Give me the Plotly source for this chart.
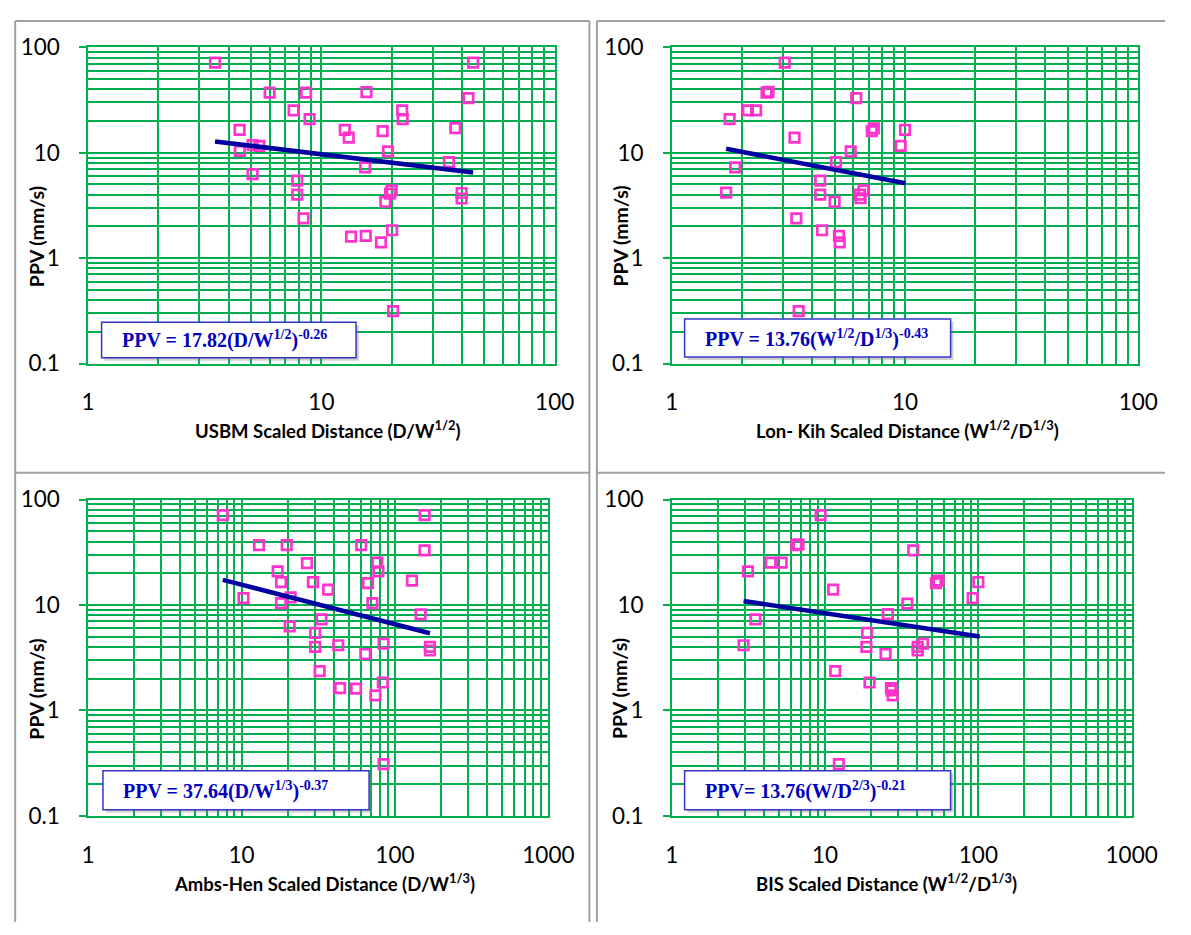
import plotly.graph_objects as go

W, H = 1191, 935

# ---------------- data ----------------
usbm_sd = [3.5, 44.7, 6.0, 8.6, 15.6, 42.7, 7.6, 22.2, 8.9, 22.3, 4.46, 12.6, 13.1, 18.3, 37.5,
           4.47, 5.07, 5.42, 19.3, 35.2, 15.4, 5.07, 7.88, 7.88, 20.0, 19.7, 18.8, 39.9, 39.9,
           8.38, 13.4, 15.5, 18.0, 20.1, 20.3]
usbm_ppv = [71.7, 71.7, 37.2, 37.2, 37.5, 33.0, 25.2, 25.2, 20.8, 20.8, 16.5, 16.5, 13.9, 16.0, 17.1,
            10.4, 11.8, 11.6, 10.3, 8.13, 7.26, 6.26, 5.43, 4.01, 4.4, 4.1, 3.43, 4.15, 3.68,
            2.38, 1.6, 1.63, 1.41, 1.84, 0.315]
usbm_fit_x = [3.5, 44.7]
usbm_fit_y = [12.8, 6.5]

lk_sd = [3.05, 2.55, 2.6, 6.18, 2.12, 2.30, 1.77, 7.2, 7.35, 10.0, 3.36, 9.58, 5.85, 5.06, 1.87,
         1.71, 4.33, 4.33, 4.99, 6.41, 6.64, 6.45, 3.42, 4.41, 5.21, 5.25, 3.50]
lk_ppv = [71.7, 37.2, 37.8, 33.0, 25.2, 25.2, 20.8, 16.0, 17.0, 16.5, 13.9, 11.6, 10.3, 8.13, 7.26,
          4.18, 5.43, 4.0, 3.43, 4.0, 4.4, 3.7, 2.38, 1.84, 1.63, 1.41, 0.315]
lk_fit_x = [1.71, 10.05]
lk_fit_y = [10.9, 5.13]

ah_sd = [7.55, 156, 13.0, 19.7, 60.3, 156, 26.7, 76.7, 78.0, 17.2, 18.1, 29.2, 66.7, 129, 36.7,
         10.3, 20.9, 18.1, 71.3, 147, 33.2, 20.6, 30.2, 30.2, 42.7, 84.3, 169, 169, 64.1,
         32.3, 43.9, 55.8, 74.6, 83.4, 84.3]
ah_ppv = [71.2, 71.2, 36.9, 36.9, 36.9, 33.0, 25.0, 25.2, 20.8, 20.8, 16.5, 16.5, 16.1, 17.0, 14.0,
          11.6, 11.8, 10.4, 10.4, 8.13, 7.31, 6.26, 5.43, 4.0, 4.15, 4.3, 4.0, 3.7, 3.43,
          2.36, 1.63, 1.61, 1.39, 1.84, 0.31]
ah_fit_x = [7.55, 169]
ah_fit_y = [17.3, 5.4]

bis_sd = [9.35, 6.5, 6.7, 37.6, 4.42, 5.21, 3.14, 52.9, 55.0, 100, 11.3, 91.8, 34.4, 25.7, 3.51,
          2.94, 18.8, 18.6, 24.8, 40.2, 43.6, 40.2, 11.65, 19.5, 26.9, 27.6, 27.2, 12.3]
bis_ppv = [71.2, 36.9, 37.5, 33.0, 25.2, 25.2, 20.8, 16.1, 17.0, 16.5, 14.0, 11.6, 10.3, 8.19, 7.31,
           4.15, 5.43, 4.0, 3.43, 4.0, 4.3, 3.7, 2.36, 1.84, 1.63, 1.39, 1.55, 0.31]
bis_fit_x = [2.94, 102]
bis_fit_y = [10.9, 5.03]

y_tickvals = [0.1, 1, 10, 100]
y_ticktext = ["0.1", "1", "10", "100"]
x_tickvals_2 = [1, 10, 100]
x_ticktext_2 = ["1", "10", "100"]
x_tickvals_3 = [1, 10, 100, 1000]
x_ticktext_3 = ["1", "10", "100", "1000"]

x_titles = ["USBM Scaled Distance (D/W<sup>1/2</sup>)",
            "Lon- Kih Scaled Distance (W<sup>1/2</sup>/D<sup>1/3</sup>)",
            "Ambs-Hen Scaled Distance (D/W<sup>1/3</sup>)",
            "BIS Scaled Distance (W<sup>1/2</sup>/D<sup>1/3</sup>)"]
equations = ["PPV = 17.82(D/W<sup>1/2</sup>)<sup>-0.26</sup>",
             "PPV = 13.76(W<sup>1/2</sup>/D<sup>1/3</sup>)<sup>-0.43</sup>",
             "PPV = 37.64(D/W<sup>1/3</sup>)<sup>-0.37</sup>",
             "PPV= 13.76(W/D<sup>2/3</sup>)<sup>-0.21</sup>"]

# ---------------- styling / layout in pixels ----------------
GREEN = "#00B050"
PINK = "#FF33CC"
NAVY = "#0000A0"
EQ_BLUE = "#0000C0"
SANS = "Lato, Carlito, Arial, sans-serif"
SERIF = "Liberation Serif, DejaVu Serif, serif"
GW = 1.5

areas = [(83.4, 563.3, 34.3, 360.0),
         (683.7, 1163.5, 34.3, 360.0),
         (83.4, 556.8, 500.0, 825.7),
         (683.7, 1156.7, 500.0, 825.7)]
xranges = [[0, 2], [0, 2], [0, 3], [0, 3]]
xticks = [(x_tickvals_2, x_ticktext_2), (x_tickvals_2, x_ticktext_2),
          (x_tickvals_3, x_ticktext_3), (x_tickvals_3, x_ticktext_3)]
panels = [(usbm_sd, usbm_ppv, usbm_fit_x, usbm_fit_y),
          (lk_sd, lk_ppv, lk_fit_x, lk_fit_y),
          (ah_sd, ah_ppv, ah_fit_x, ah_fit_y),
          (bis_sd, bis_ppv, bis_fit_x, bis_fit_y)]
xtitle_pos = [(330, 428), (926.6, 428), (326.8, 894), (904.7, 894)]
ytitle_pos = [(30.6, 229), (630.6, 229), (30.6, 695), (630.6, 695)]
eq_boxes = [(97.3, 359.0, 317.3, 354.0),
            (696.9, 970.5, 314.0, 353.3),
            (98.7, 372.4, 779.3, 819.3),
            (696.9, 970.5, 779.3, 819.3)]


def px(xp):
    return xp / W


def py(yp):
    return 1 - yp / H


fig = go.Figure()
layout = dict(width=W, height=H, autosize=False, margin=dict(l=0, r=0, t=0, b=0, pad=0),
              paper_bgcolor="white", plot_bgcolor="white", showlegend=False)
shapes = []
annotations = []

for i, (sd, ppv, fx, fy) in enumerate(panels):
    n = "" if i == 0 else str(i + 1)
    xa, ya = "x" + n, "y" + n
    fig.add_trace(go.Scatter(x=sd, y=ppv, mode="markers", xaxis=xa, yaxis=ya,
                             marker=dict(symbol="square-open", size=9.5, color=PINK,
                                         line=dict(width=2.7, color=PINK)),
                             hoverinfo="x+y"))
    fig.add_trace(go.Scatter(x=fx, y=fy, mode="lines", xaxis=xa, yaxis=ya,
                             line=dict(color=NAVY, width=4.5), hoverinfo="skip"))
    l, r, t, b = areas[i]
    grid = dict(type="log", zeroline=False, showgrid=True, gridcolor=GREEN, gridwidth=GW,
                showline=True, linecolor=GREEN, linewidth=GW, mirror=True,
                minor=dict(dtick="D1", showgrid=True, gridcolor=GREEN, gridwidth=GW, ticks=""))
    layout["xaxis" + n] = dict(grid, domain=[px(l), px(r)], range=xranges[i], anchor=ya,
                               tickmode="array", tickvals=xticks[i][0], ticktext=xticks[i][1],
                               ticks="", ticklabelstandoff=18,
                               tickfont=dict(family=SANS, size=22.5, color="black"))
    layout["yaxis" + n] = dict(grid, domain=[py(b), py(t)], range=[-1, 2], anchor=xa,
                               tickmode="array", tickvals=y_tickvals, ticktext=y_ticktext,
                               ticks="outside", ticklen=7, tickcolor=GREEN, tickwidth=GW,
                               ticklabelstandoff=15,
                               tickfont=dict(family=SANS, size=22.5, color="black"))
    # axis titles
    annotations.append(dict(xref="paper", yref="paper", x=px(xtitle_pos[i][0]), y=py(xtitle_pos[i][1]),
                            xanchor="center", yanchor="middle", showarrow=False,
                            text="<b>" + x_titles[i] + "</b>",
                            font=dict(family=SANS, size=18.5, color="black")))
    annotations.append(dict(xref="paper", yref="paper", x=px(ytitle_pos[i][0]), y=py(ytitle_pos[i][1]),
                            xanchor="center", yanchor="middle", showarrow=False, textangle=-90,
                            text="<b>PPV (mm/s)</b>",
                            font=dict(family=SANS, size=19.5, color="black")))
    # equation box with soft shadow
    bl, br, bt, bb = eq_boxes[i]
    shapes.append(dict(type="rect", xref="paper", yref="paper",
                       x0=px(bl + 3), x1=px(br + 3), y0=py(bb + 3), y1=py(bt + 3),
                       fillcolor="rgba(120,120,120,0.35)", line=dict(width=0)))
    shapes.append(dict(type="rect", xref="paper", yref="paper",
                       x0=px(bl), x1=px(br), y0=py(bb), y1=py(bt),
                       fillcolor="white", line=dict(color="#3535C8", width=1.5)))
    annotations.append(dict(xref="paper", yref="paper", x=px(bl + 19), y=py((bt + bb) / 2),
                            xanchor="left", yanchor="middle", showarrow=False,
                            text="<b>" + equations[i] + "</b>",
                            font=dict(family=SERIF, size=20, color=EQ_BLUE)))

# table cell borders
BORDER = dict(color="#A0A0A0", width=2)
for xv in (8.4, 599.0, 606.7):
    shapes.append(dict(type="line", xref="paper", yref="paper", x0=px(xv), x1=px(xv),
                       y0=py(7.3), y1=py(935), line=BORDER))
for yv in (7.3, 472.3):
    shapes.append(dict(type="line", xref="paper", yref="paper", x0=px(8.4), x1=px(599.0),
                       y0=py(yv), y1=py(yv), line=BORDER))
    shapes.append(dict(type="line", xref="paper", yref="paper", x0=px(606.7), x1=px(1191),
                       y0=py(yv), y1=py(yv), line=BORDER))

layout["shapes"] = shapes
layout["annotations"] = annotations
fig.update_layout(**layout)
fig.write_html("out.html")
